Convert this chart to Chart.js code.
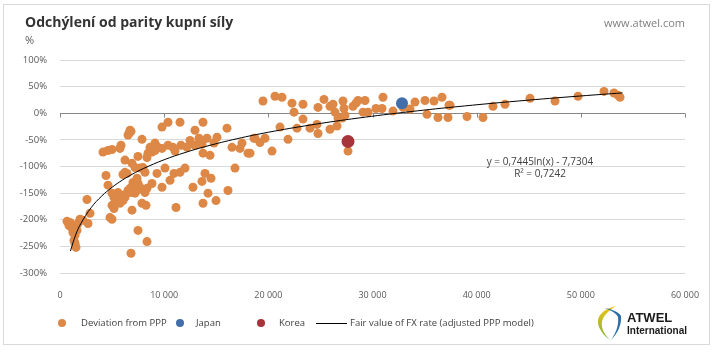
<!DOCTYPE html>
<html><head><meta charset="utf-8">
<script src="https://cdn.jsdelivr.net/npm/chart.js@4.4.0/dist/chart.umd.min.js"></script>
<style>
html,body{margin:0;padding:0;background:#fff;}
#wrap{position:relative;width:718px;height:352px;overflow:hidden;font-family:"Open Sans",sans-serif;}
#frame{position:absolute;left:3px;top:4px;width:707px;height:341px;border:1px solid #D9D9D9;box-sizing:border-box;}
#cv{position:absolute;left:0;top:0;}
.t{position:absolute;white-space:nowrap;line-height:1;}
#title{left:25px;top:15px;font-size:14px;font-weight:700;color:#333;}
#unit{left:25px;top:34px;font-size:11px;color:#595959;}
#web{right:33px;top:17px;font-size:11px;color:#7F7F7F;}
#eq{left:470px;width:140px;top:155px;font-size:10px;line-height:12px;text-align:center;color:#404040;}
.lg{position:absolute;top:317px;font-size:9.5px;color:#404040;line-height:12px;white-space:nowrap;}
.dot{position:absolute;width:8px;height:8px;border-radius:50%;top:319px;}
.ln{position:absolute;height:1px;top:323px;background:#000;}
#logoA{left:627px;top:311px;font-family:"Liberation Sans",Arial,sans-serif;font-weight:700;font-size:13px;color:#1a1a1a;}
#logoB{left:627px;top:326px;font-family:"Liberation Sans",Arial,sans-serif;font-weight:700;font-size:10px;color:#1a1a1a;}
</style></head>
<body>
<div id="wrap">
<div id="frame"></div>
<canvas id="cv" width="718" height="352"></canvas>
<div class="t" id="title">Odchýlení od parity kupní síly</div>
<div class="t" id="unit">%</div>
<div class="t" id="web">www.atwel.com</div>
<div class="t" id="eq">y = 0,7445ln(x) - 7,7304<br>R² = 0,7242</div>
<div id="legend"></div>
<svg style="position:absolute;left:594px;top:303px" width="30" height="40" viewBox="0 0 30 40">
  <defs><linearGradient id="g1" x1="0" y1="0" x2="0" y2="1"><stop offset="0" stop-color="#F2C417"/><stop offset="1" stop-color="#7DB43A"/></linearGradient></defs>
  <path d="M22 3 C10 6 3 12 4 20 C5 28 12 34 16 37 C10 31 7 25 8 19 C9 13 14 8 22 3 Z" fill="url(#g1)"/>
  <path d="M10 5 C18 6 25 9 27 13 C28 22 23 31 17 37 C22 30 25 22 24 14 C22 10 17 7 10 5 Z" fill="#2F6FA8"/>
</svg>
<div class="t" id="logoA">ATWEL</div>
<div class="t" id="logoB">International</div>
</div>
<script>
// ---- data ----
const devX = [672,864,960,1152,1248,1440,1632,1440,1536,1344,
1728,1920,2208,2688,2880,2592,4128,4608,4992,5856,
5760,4416,4608,4992,5184,5568,5952,6240,6432,5472,
6048,5760,4992,5184,4800,4992,6912,7872,8256,7488,
8352,6816,6624,6720,6528,6816,10368,11520,13728,9792,
7872,12960,16032,8640,9120,9408,9792,8832,8448,8352,
9120,10368,10848,11040,11616,12192,12480,12960,13344,13632,
14112,13728,14400,14784,15072,16512,17280,17472,18048,18624,
7488,6240,6912,7200,7680,7968,8160,6240,6432,6048,
7392,7008,7200,7488,7680,6720,6528,6912,7200,7392,
8832,8352,8160,9312,10080,10560,10944,11520,12000,9792,
12768,13632,13920,14496,14208,13728,14976,16128,16800,11136,
19488,20640,21312,22272,22464,23328,24768,25344,25920,26208,
26400,27168,27264,26688,27072,28128,28416,28608,29280,29088,
29568,30336,30912,31008,31968,32928,33600,34080,35040,35904,
36672,37344,35232,36288,37248,39072,40608,41568,21120,22752,
23328,24000,24672,24768,25920,26592,27360,18720,19200,19680,
21888,20352,27648,18240,37440,42720,45120,47520,49728,52224,
53184,53568,53760];
const devY = [-203,-211,-205,-216,-224,-229,-220,-244,-252,-239,
-207,-199,-201,-207,-188,-162,-73,-70,-68,-60,
-66,-117,-135,-150,-158,-149,-154,-158,-150,-164,
-164,-169,-173,-179,-196,-199,-182,-169,-173,-220,
-241,-263,-38,-32,-41,-34,-17,-17,-17,-26,
-49,-32,-28,-64,-56,-64,-66,-73,-75,-83,
-70,-60,-64,-71,-60,-64,-51,-60,-47,-58,
-47,-75,-79,-56,-45,-64,-66,-56,-75,-47,
-81,-88,-94,-102,-103,-102,-111,-111,-113,-115,
-122,-130,-135,-132,-139,-141,-145,-149,-150,-145,
-132,-141,-149,-113,-103,-126,-113,-111,-103,-139,
-139,-128,-113,-122,-150,-169,-164,-145,-103,-177,
23,32,30,19,2,17,11,26,13,17,
2,23,9,-9,-9,13,19,24,24,2,
2,9,9,30,4,11,8,21,24,23,
30,15,-2,-8,-8,-6,-8,13,-26,-28,
-11,-28,-21,-38,-30,-24,-4,-47,-55,-47,
-49,-71,-71,-75,15,17,28,23,32,41,
38,34,30];
const japanX = [32832];
const japanY = [19];
const koreaX = [27648];
const koreaY = [-53];
// fair-value curve as shown (y = 0,7445 ln(x) - 7,7304), sampled values in %
const trendX = [1000,1500,2000,3000,4000,5000,6000,7000,8000,10000,12000,14000,17000,20000,24000,28000,33000,38000,44000,50000,54000];
const trendY = [-258.8,-228.6,-207.2,-177.0,-155.6,-139.0,-125.4,-113.9,-103.9,-87.3,-73.8,-62.3,-47.8,-35.7,-22.2,-10.7,1.6,12.1,23.0,32.5,38.2];
const xTickValues = [0,10000,20000,30000,40000,50000,60000];
const yTickValues = [100,50,0,-50,-100,-150,-200,-250,-300];
const seriesNames = ["Deviation from PPP","Japan","Korea","Fair value of FX rate (adjusted PPP model)"];
const colors = {dev:"rgb(221,136,70)", japan:"rgb(66,111,170)", korea:"rgb(166,52,58)", trend:"#000000"};

const zip = (xs, ys) => xs.map((x,i)=>({x:x, y:ys[i]}));

const zeroTicks = {
  id:'zeroTicks',
  beforeDatasetsDraw(chart){
    const {ctx, scales:{x, y}} = chart;
    const py = Math.round(y.getPixelForValue(0)) + 0.5;
    ctx.save();
    ctx.strokeStyle = '#868686'; ctx.lineWidth = 1;
    x.ticks.forEach(t => {
      const px = Math.round(x.getPixelForValue(t.value)) + 0.5;
      ctx.beginPath(); ctx.moveTo(px, py); ctx.lineTo(px, py + 4); ctx.stroke();
    });
    ctx.restore();
  }
};

new Chart(document.getElementById('cv'), {
  type:'scatter',
  data:{datasets:[
    {label:seriesNames[3], data:zip(trendX,trendY), showLine:true, borderColor:colors.trend, borderWidth:1, pointRadius:0, tension:0.4, order:0},
    {label:seriesNames[1], data:zip(japanX,japanY), backgroundColor:colors.japan, borderColor:colors.japan, pointRadius:6, borderWidth:0, order:1},
    {label:seriesNames[2], data:zip(koreaX,koreaY), backgroundColor:colors.korea, borderColor:colors.korea, pointRadius:6.5, borderWidth:0, order:1},
    {label:seriesNames[0], data:zip(devX,devY), backgroundColor:colors.dev, borderColor:colors.dev, pointRadius:4.5, borderWidth:0, order:2}
  ]},
  options:{
    responsive:false, animation:false, devicePixelRatio:1,
    layout:{padding:{left:0,right:33,top:60,bottom:48}},
    plugins:{legend:{display:false}, tooltip:{enabled:false}},
    scales:{
      x:{type:'linear', min:0, max:60000,
        afterBuildTicks(s){ s.ticks = xTickValues.map(v=>({value:v})); },
        afterFit(s){ s.height = 31; },
        grid:{display:false}, border:{display:false},
        ticks:{padding:9, color:'#595959', font:{family:'"Open Sans"', size:9}, maxRotation:0,
          callback:v=>String(v).replace(/\B(?=(\d{3})+(?!\d))/g,' ')}},
      y:{min:-300, max:100,
        afterBuildTicks(s){ s.ticks = yTickValues.map(v=>({value:v})); },
        afterFit(s){ s.width = 60; },
        border:{display:false},
        grid:{drawTicks:false, color:c=> (c.tick && c.tick.value===0) ? '#868686' : '#D9D9D9', lineWidth:1},
        ticks:{padding:13, color:'#595959', font:{family:'"Open Sans"', size:9.5}, callback:v=>v+'%'}}
    }
  },
  plugins:[zeroTicks]
});

// HTML legend built from series names/colors
const lg = document.getElementById('legend');
const items = [
  {kind:'dot', c:colors.dev, dx:58, tx:81, text:seriesNames[0]},
  {kind:'dot', c:colors.japan, dx:176, tx:196, text:seriesNames[1]},
  {kind:'dot', c:colors.korea, dx:257, tx:279, text:seriesNames[2]},
  {kind:'line', c:colors.trend, dx:316, tx:350, text:seriesNames[3]}
];
items.forEach(it=>{
  const m = document.createElement('div');
  if(it.kind==='dot'){ m.className='dot'; m.style.left=it.dx+'px'; m.style.background=it.c; }
  else { m.className='ln'; m.style.left=it.dx+'px'; m.style.width='31px'; m.style.background=it.c; }
  lg.appendChild(m);
  const t = document.createElement('div');
  t.className='lg'; t.style.left=it.tx+'px'; t.textContent=it.text;
  lg.appendChild(t);
});
</script>
</body></html>
